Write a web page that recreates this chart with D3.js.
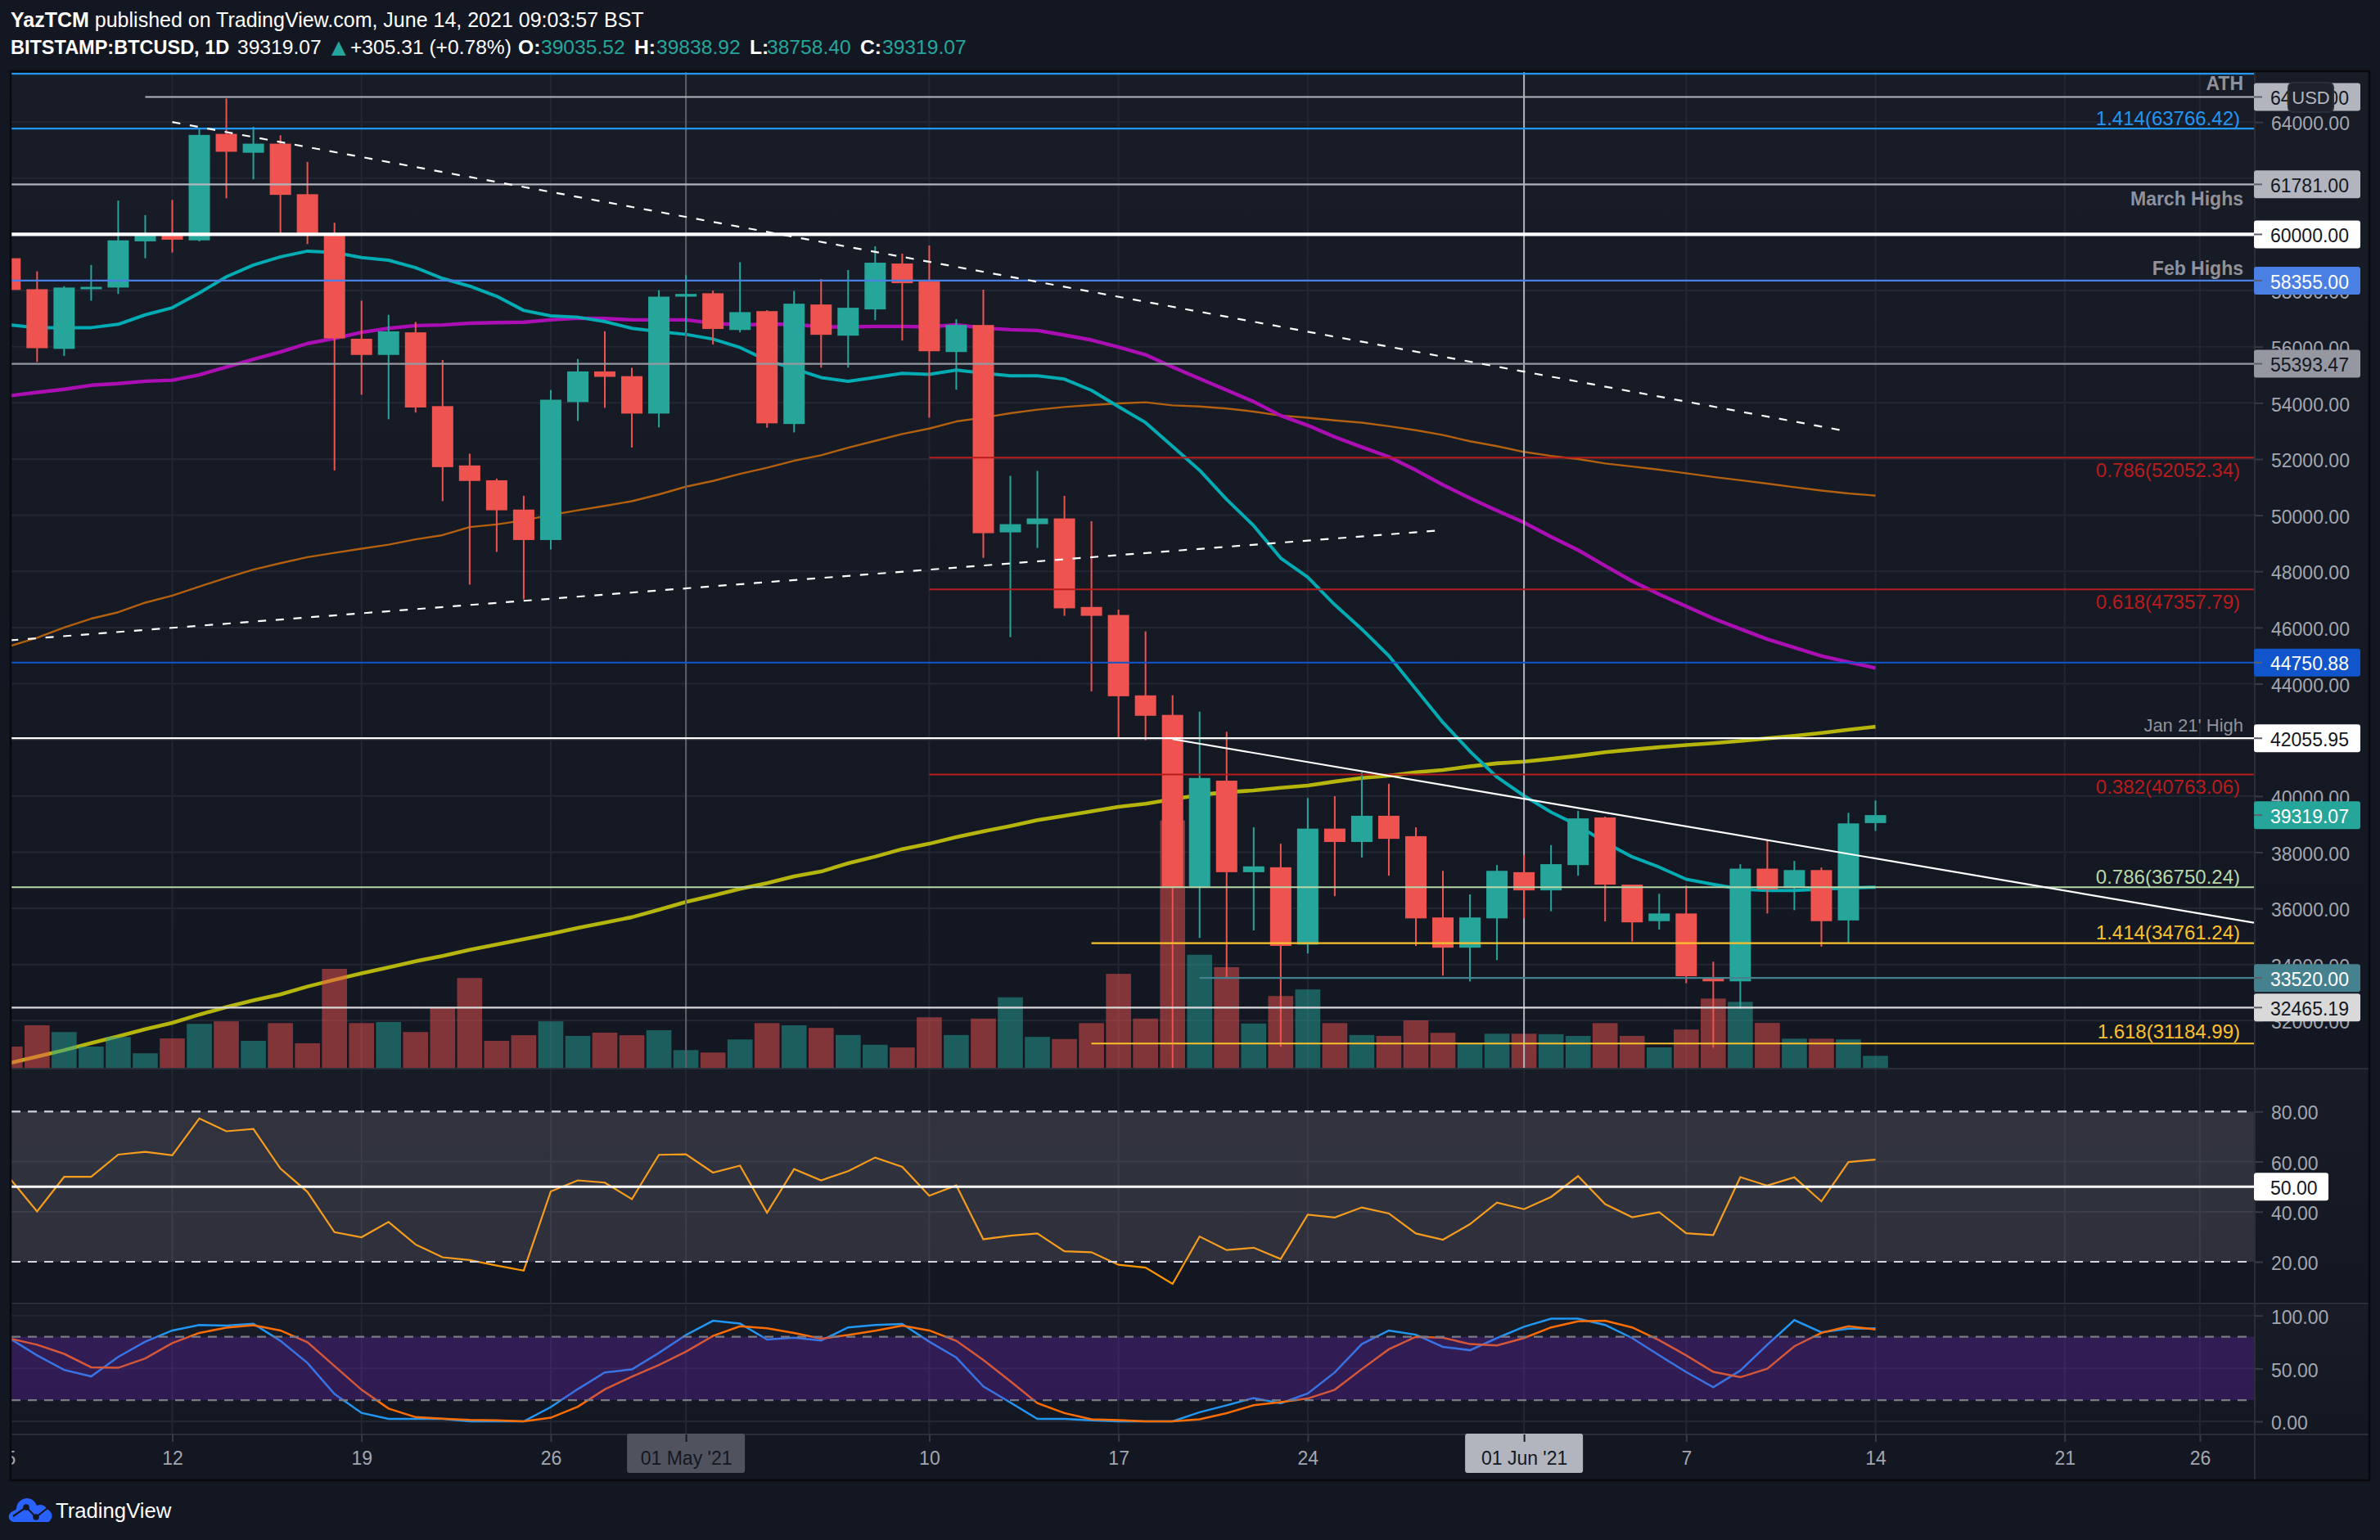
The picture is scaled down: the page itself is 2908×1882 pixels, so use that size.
<!DOCTYPE html>
<html><head><meta charset="utf-8"><script src="https://cdn.jsdelivr.net/npm/d3@7/dist/d3.min.js"></script>
<style>html,body{margin:0;padding:0;background:#131722}svg{display:block}text{font-family:"Liberation Sans",Arial,sans-serif}</style></head>
<body><script>
// ---- data (index 0 = 6 Apr 2021, daily, last = 14 Jun 2021) ----
const firstDay=-6; // day offset from 12 Apr
const open=[59152,58048,55924,58048,58108,59752,59980,59788,63580,62908,63232,61432,60016,56284,55708,56512,53884,51772,51244,50200,49117,54028,55120,54952,53620,57784,57904,56596,57268,53248,57504,56394,57329,58963,58321,55811,56774,49389,49681,49885,46732,46447,43584,42888,36765,40546,37287,37462,34709,38838,38363,39296,38569,35674,34598,35642,37287,36639,37540,39234,36844,35543,35816,33530,33400,37413,36725,37362,35569,39035.52];
const close=[58024,55948,58108,58132,59788,59980,59812,63544,62944,63232,61408,60016,56296,55708,56548,53836,51712,51220,50176,49117,54112,55120,54928,53620,57784,57880,56632,57232,53272,57532,56424,57387,58992,58263,55840,56774,49360,49681,49885,46684,46416,43552,42856,36734,40641,37287,37494,34661,38838,38363,39296,38474,35642,34598,35674,37335,36639,37572,39202,36844,35500,35816,33581,33400,37413,36673,37362,35543,39024,39319.07];
const high=[59400,58684,58156,58912,61204,60688,61228,63760,64840,63832,63532,62584,60412,57640,57136,56884,55528,52192,51304,50692,54460,55564,56548,55252,58012,58552,58000,59008,57300,57988,58409,58730,59576,59314,59605,56978,58029,51403,51578,50687,49785,46637,45862,43584,43000,42287,38885,38300,39929,39993,40831,40436,38885,37335,36496,37540,37905,38252,39471,39265,36844,36517,36803,34100,37569,38427,37686,37452,39401,39838.92];
const low=[57900,55456,55672,57640,57880,59152,59356,59752,61288,61960,60020,59656,51592,54292,53416,53656,50500,47528,48694,47003,48780,53356,53824,52408,53128,56500,56080,56512,53116,52948,55256,55256,56949,56219,53475,54468,48484,45656,48834,46416,43726,42065,41986,30247,34946,33553,35215,31070,34393,36433,37810,37161,34661,33601,33396,34155,35642,35896,37161,35531,34819,35244,33335,31035,32425,35816,35933,34634,34776,38758.40];
const volume=[2600,5200,4380,2600,3770,1780,3600,5380,5680,3300,5470,3000,12100,5470,5600,4380,7420,10980,3300,3990,5680,3900,4300,3990,4600,2170,1870,3470,5470,5200,4880,4010,2820,2490,6180,4010,6020,8620,3790,3520,5470,11490,6020,30240,13820,12300,5420,8780,9590,5470,4010,3900,5800,4280,2980,4170,4170,4120,3900,5470,3900,2500,4680,8470,8070,5490,3570,3570,3480,1470];
const ma21=[56776,56680,56680,56680,56800,57136,57388,57916,58492,58912,59200,59404,59356,59176,59080,58816,58432,58156,57796,57292,57100,57052,56896,56656,56536,56440,56272,55972,55516,55216,54900,54770,54906,55052,55013,55169,55062,54964,54964,54847,54448,53865,53300,52450,51600,50560,49627,48472,47792,46811,45941,44992,43805,42619,41590,40673,40008,39423,38949,38347,37830,37466,37037,36855,36686,36634,36634,36686,36725,36751];
const ma50=[54256,54376,54484,54628,54688,54772,54808,55000,55276,55552,55816,56116,56296,56512,56656,56752,56776,56836,56860,56872,56956,57016,57004,56956,56956,56956,56836,56776,56800,56800,56706,56706,56725,56725,56706,56784,56667,56609,56579,56414,56239,55986,55713,55280,54862,54453,54044,53548,53200,52785,52427,52079,51604,51082,50608,50165,49738,49232,48757,48203,47650,47182,46753,46325,45948,45584,45286,44987,44766,44558];
const ma100=[45341,45633,45999,46316,46544,46886,47139,47456,47772,48063,48291,48506,48658,48810,48950,49139,49291,49576,49672,49816,50008,50176,50332,50500,50740,51016,51220,51472,51688,51940,52133,52405,52648,52892,53086,53339,53476,53632,53758,53855,53923,53982,54020,53913,53870,53800,53690,53548,53470,53375,53297,53170,53028,52854,52633,52459,52253,52111,52000,51842,51735,51622,51492,51362,51244,51127,50997,50879,50775,50697];
const ma200=[30493,30721,30949,31202,31442,31696,31923,32215,32481,32721,32936,33215,33455,33683,33898,34114,34304,34519,34709,34899,35088,35304,35494,35684,35949,36228,36456,36696,36899,37139,37310,37604,37841,38110,38300,38537,38743,38933,39138,39296,39455,39613,39724,39882,40040,40135,40198,40293,40372,40515,40641,40720,40847,40926,41053,41163,41227,41322,41433,41559,41650,41739,41817,41882,41960,42051,42142,42246,42363,42467];
const rsi=[53.2,40.1,53.9,53.9,62.8,63.9,62.5,77.2,72.1,73.0,57.2,47.9,31.8,29.8,35.9,26.9,21.8,20.7,18.5,16.5,48.1,52.5,51.6,45.0,62.7,62.9,55.6,58.4,39.6,57.0,52.5,56.2,61.6,57.9,46.4,50.5,29,30.4,31.3,24.2,23.8,18.8,17.7,11.2,30.1,24.7,25.6,21.1,38.8,37.7,41.7,39.3,31.3,28.8,35.0,43.6,41.0,45.9,54.2,43.0,37.8,39.8,31.4,30.7,53.8,50.4,53.7,44.1,59.8,60.8];
const stochK=[78.2,62.4,48.6,42.5,60.9,75.3,85.9,91.1,90.5,92.2,76.1,55.2,25.9,8,2.3,2.3,2.3,0,0,0,13.5,30.5,46.3,49.1,64.7,81.6,95.1,92.5,77.3,79,76.4,88.8,91.1,92,75.3,60.3,33,17.8,2.3,2.3,0.9,0,0,0,8.6,15.2,22.1,17,26.4,46.3,73,85.9,81.9,70.4,67.2,78.7,89.4,97.1,97.1,91.1,78.7,62.4,46.6,32.2,48,72.4,95.7,84.2,87.6,87.9];
const stochD=[78.2,72.4,63.8,51.1,50.6,59.5,73.9,83.6,88.5,90.8,85.9,74.7,52.3,29.9,12.1,4,2.6,1.4,0.9,0,3.4,13.8,30.2,42.2,53.2,65.8,80.7,89.9,87.9,83.6,78.2,81.6,85.6,90.5,85.9,76.1,58,37.9,17.2,7.8,2,1.1,0,0,2,7.8,15.2,18.1,21.6,29.9,49.4,68.1,79.9,79,73,71.8,78.7,88.8,94.5,95.1,88.8,76.7,62.4,46.8,41.7,49.7,71,83.6,89.9,86.8];
const priceTicks=[64000,62000,60000,58000,56000,54000,52000,50000,48000,46000,44000,42000,40000,38000,36000,34000,32000];
const rsiTicks=[80,60,40,20];
const stochTicks=[100,50,0];
const dayTicks=[-6,0,7,14,19,28,35,42,50,56,63,70,75];
const dayLabels=["5","12","19","26","01 May '21","10","17","24","01 Jun '21","7","14","21","26"];
// horizontal drawings
const hlValue=[65720,64895,63766.42,61781,60000,58355,55393.47,52052.34,47357.79,44750.88,42055.95,40763.06,36750.24,34761.24,33520,32465.19,31184.99];
const hlStart=[-6,-1,-6,-6,-6,-6,-6,28,28,-6,-6,28,-6,34,38,-6,34];
const hlColor=["#2196f3","#b2b5be","#2196f3","#b2b5be","#ffffff","#4a80e4","#9598a1","#b71c1c","#b71c1c","#1155cc","#ffffff","#b71c1c","#b7d7a8","#fbc02d","#45818e","#d9d9d9","#fbc02d"];
const hlWidth=[2.2,2.2,2.2,2.2,4.2,2.2,2.2,2,2,2.2,2.2,2,2,2.2,2.2,2.2,2.2];
// trend lines: [day, price]
const trendDown=[[0,64000],[62,52980]];
const trendUp=[[-6,45545],[46.8,49452]];
const trendSolid=[[37,42026],[77,35487]];
// price pills
const pillValue=[64895,61781,60000,58355,55393.47,44750.88,42055.95,39319.07,33520,32465.19];
const pillFill=["#b2b5be","#b2b5be","#ffffff","#4a80e4","#9598a1","#1155cc","#ffffff","#26a69a","#45818e","#d9d9d9"];
const pillInk=["#131722","#131722","#131722","#ffffff","#131722","#ffffff","#131722","#ffffff","#ffffff","#131722"];
// text notes
const noteText=["ATH","March Highs","Feb Highs","1.414(63766.42)","0.786(52052.34)","0.618(47357.79)","Jan 21' High","0.382(40763.06)","0.786(36750.24)","1.414(34761.24)","1.618(31184.99)"];
const noteValue=[65370,61289,58810,64146,51610,46915,42540,40325,37130,35140,31610];
const noteColor=["#8f929b","#8f929b","#8f929b","#2196f3","#b71c1c","#b71c1c","#8f929b","#b71c1c","#b7d7a8","#fbc02d","#fbc02d"];
const noteWeight=["bold","bold","bold","normal","normal","normal","normal","normal","normal","normal","normal"];
const noteSize=[23,23,23,24,24,24,22,24,24,24,24];
const noteRight=[2741,2741,2741,2737,2737,2737,2741,2737,2737,2737,2737];
// header pieces
const headText=["BITSTAMP:BTCUSD, 1D","39319.07","▲","+305.31 (+0.78%)","O:","39035.52","H:","39838.92","L:","38758.40","C:","39319.07"];
const headX=[13,290,399,428,633,661,775,802,916,937,1051,1078];
const headBold=[1,0,0,0,1,0,1,0,1,0,1,0];
const headTeal=[0,0,1,0,0,1,0,1,0,1,0,1];

// ---- geometry ----
const W=2908,H=1882,L=14,R=2754,OUT=2894;
const main={t:88,b:1305},rp={t:1306,b:1593},sp={t:1595,b:1753},ax={t:1754,b:1808};
const x=d3.scaleLinear().domain([-6,77]).range([12.3,2754]);
const y=d3.scaleLinear().domain([64000,32000]).range([149.2,1247.3]);
const yVol=d3.scaleLinear().domain([0,30300]).range([1305,1002]);
const yR=d3.scaleLinear().domain([80,20]).range([1358.3,1542]);
const yS=d3.scaleLinear().domain([100,0]).range([1607.7,1737]);
const days=d3.range(open.length).map(i=>i+firstDay);

const svg=d3.select("body").append("svg").attr("width",W).attr("height",H);
svg.append("rect").attr("width",W).attr("height",H).attr("fill","#131722");
const defs=svg.append("defs");
const g=defs.append("linearGradient").attr("id","pane").attr("x1",0).attr("x2",0).attr("y1",0).attr("y2",1);
g.append("stop").attr("offset",0).attr("stop-color","#181c27");
g.append("stop").attr("offset",1).attr("stop-color","#131722");
[["cm",L,main.t,R-L,main.b-main.t],["cr",L,rp.t,R-L,rp.b-rp.t],["cs",L,sp.t,R-L,sp.b-sp.t],["ct",L,0,W,H]].forEach(c=>
 defs.append("clipPath").attr("id",c[0]).append("rect").attr("x",c[1]).attr("y",c[2]).attr("width",c[3]).attr("height",c[4]));
// panes
[main,rp,sp].forEach(p=>svg.append("rect").attr("x",L).attr("y",p.t).attr("width",OUT-L).attr("height",p.b-p.t).attr("fill","url(#pane)"));
svg.append("rect").attr("x",L).attr("y",ax.t).attr("width",OUT-L).attr("height",ax.b-ax.t).attr("fill","#131722");
const GRID="#232733";
// vertical grid
[main,rp,sp].forEach(p=>{
 svg.append("g").selectAll("line").data(dayTicks.slice(1)).join("line").attr("x1",d=>x(d)).attr("x2",d=>x(d)).attr("y1",p.t).attr("y2",p.b).attr("stroke",GRID).attr("stroke-width",2);
});
// horizontal grid
function hgrid(ticks,sc){svg.append("g").selectAll("line").data(ticks).join("line").attr("x1",L).attr("x2",R).attr("y1",d=>sc(d)).attr("y2",d=>sc(d)).attr("stroke",GRID).attr("stroke-width",2);}
hgrid(priceTicks,y);hgrid([60,40],yR);hgrid(stochTicks,yS);

// ---- main pane ----
const mg=svg.append("g").attr("clip-path","url(#cm)");
const lineOf=(arr,sc)=>d3.line().x((d,i)=>x(days[i])).y(d=>sc(d))(arr);
[[ma100,"#b2600f",2.4],[ma200,"#b5b50c",4.6],[ma50,"#ab0fb3",4.4],[ma21,"#00acb3",4]].forEach(m=>
 mg.append("path").attr("d",lineOf(m[0],y)).attr("fill","none").attr("stroke",m[1]).attr("stroke-width",m[2]).attr("stroke-linejoin","round"));
const colorAt=i=>close[i]>=open[i]?"#26a69a":"#ef5350";
const bw=x(1)-x(0)-2.4;
mg.append("g").selectAll("rect").data(volume).join("rect")
 .attr("x",(d,i)=>x(days[i])-bw/2).attr("width",bw).attr("y",d=>yVol(d)).attr("height",d=>1305-yVol(d))
 .attr("fill",(d,i)=>colorAt(i)).attr("fill-opacity",0.5);
// date marker lines
mg.append("line").attr("x1",x(19)).attr("x2",x(19)).attr("y1",main.t).attr("y2",main.b).attr("stroke","#5d6068").attr("stroke-width",2);
mg.append("line").attr("x1",x(50)).attr("x2",x(50)).attr("y1",main.t).attr("y2",main.b).attr("stroke","#b2b5be").attr("stroke-width",2);
// candles
const cw=26;
mg.append("g").selectAll("line").data(days).join("line")
 .attr("x1",d=>x(d)).attr("x2",d=>x(d)).attr("y1",(d,i)=>y(high[i])).attr("y2",(d,i)=>y(low[i]))
 .attr("stroke",(d,i)=>colorAt(i)).attr("stroke-width",2);
mg.append("g").selectAll("rect").data(days).join("rect")
 .attr("x",d=>x(d)-cw/2).attr("width",cw)
 .attr("y",(d,i)=>y(Math.max(open[i],close[i])))
 .attr("height",(d,i)=>Math.max(2,Math.abs(y(open[i])-y(close[i]))))
 .attr("fill",(d,i)=>colorAt(i));
// drawings
mg.append("g").selectAll("line").data(hlValue).join("line")
 .attr("x1",(d,i)=>x(hlStart[i])).attr("x2",R).attr("y1",d=>y(d)).attr("y2",d=>y(d))
 .attr("stroke",(d,i)=>hlColor[i]).attr("stroke-width",(d,i)=>hlWidth[i]);
const tl=d3.line().x(d=>x(d[0])).y(d=>y(d[1]));
mg.append("path").attr("d",tl(trendDown)).attr("stroke","#ffffff").attr("stroke-width",2.2).attr("stroke-dasharray","10 11.7").attr("fill","none");
mg.append("path").attr("d",tl(trendUp)).attr("stroke","#ffffff").attr("stroke-width",2.2).attr("stroke-dasharray","10 11.7").attr("fill","none");
mg.append("path").attr("d",tl(trendSolid)).attr("stroke","#ffffff").attr("stroke-width",2.2).attr("fill","none");
// notes
mg.append("g").selectAll("text").data(noteText).join("text")
 .attr("x",(d,i)=>noteRight[i]).attr("y",(d,i)=>y(noteValue[i])).attr("dy","0.36em").attr("text-anchor","end")
 .attr("font-size",(d,i)=>noteSize[i]).attr("font-weight",(d,i)=>noteWeight[i]).attr("fill",(d,i)=>noteColor[i]).text(d=>d);

// ---- RSI ----
const rg=svg.append("g").attr("clip-path","url(#cr)");
rg.append("path").attr("d",lineOf(rsi,yR)).attr("fill","none").attr("stroke","#ff9800").attr("stroke-width",2.2);
rg.append("rect").attr("x",L).attr("width",R-L).attr("y",yR(80)).attr("height",yR(20)-yR(80)).attr("fill","rgb(200,190,200)").attr("fill-opacity",0.15);
[80,20].forEach(v=>rg.append("line").attr("x1",L).attr("x2",R).attr("y1",yR(v)).attr("y2",yR(v)).attr("stroke","#d1d4dc").attr("stroke-width",2.2).attr("stroke-dasharray","11 9"));
rg.append("line").attr("x1",L).attr("x2",R).attr("y1",yR(50)).attr("y2",yR(50)).attr("stroke","#fff").attr("stroke-width",3);
// ---- Stoch ----
const sg=svg.append("g").attr("clip-path","url(#cs)");
sg.append("path").attr("d",lineOf(stochK,yS)).attr("fill","none").attr("stroke","#2196f3").attr("stroke-width",2.5);
sg.append("path").attr("d",lineOf(stochD,yS)).attr("fill","none").attr("stroke","#ff6d00").attr("stroke-width",2.5);
sg.append("rect").attr("x",L).attr("width",R-L).attr("y",yS(80)).attr("height",yS(20)-yS(80)).attr("fill","rgb(113,37,192)").attr("fill-opacity",0.3);
[80,20].forEach(v=>sg.append("line").attr("x1",L).attr("x2",R).attr("y1",yS(v)).attr("y2",yS(v)).attr("stroke","#787b86").attr("stroke-width",2.2).attr("stroke-dasharray","11 9"));

// separators & right axis line
[main.b+1,rp.b,sp.b].forEach(v=>svg.append("line").attr("x1",L).attr("x2",OUT).attr("y1",v).attr("y2",v).attr("stroke","#2a2e39").attr("stroke-width",2));
svg.append("line").attr("x1",R+1).attr("x2",R+1).attr("y1",main.t).attr("y2",ax.b).attr("stroke","#2a2e39").attr("stroke-width",2);

// ---- axes ----
const AX="#a3a6af";
function styleAxis(a){a.select(".domain").remove();a.selectAll("line").attr("stroke","#363a45").attr("stroke-width",2);a.selectAll("text").attr("fill",AX).attr("font-size",23).attr("font-family",'"Liberation Sans",Arial,sans-serif');}
const f2=d3.format(".2f");
[[y,priceTicks],[yR,rsiTicks],[yS,stochTicks]].forEach(c=>{
 const a=svg.append("g").attr("transform",`translate(${R+1},0)`).call(d3.axisRight(c[0]).tickValues(c[1]).tickFormat(f2).tickSize(10).tickPadding(10));
 styleAxis(a);
 a.selectAll("text").attr("dy","0.42em");
});
// 50 pill
svg.append("rect").attr("x",R).attr("y",yR(50)-17).attr("width",91).attr("height",34).attr("rx",3).attr("fill","#fff");
svg.append("text").attr("x",R+20).attr("y",yR(50)).attr("dy","0.42em").attr("font-size",23).attr("fill","#131722").text("50.00");
// pills
const pg=svg.append("g");
pg.selectAll("rect").data(pillValue).join("rect").attr("x",R).attr("width",130).attr("height",34).attr("rx",3).attr("y",d=>y(d)-17).attr("fill",(d,i)=>pillFill[i]);
pg.selectAll("line").data(pillValue).join("line").attr("x1",R).attr("x2",R+10).attr("y1",d=>y(d)).attr("y2",d=>y(d)).attr("stroke","#5d606b").attr("stroke-width",2);
pg.selectAll("text").data(pillValue).join("text").attr("x",R+20).attr("y",d=>y(d)).attr("dy","0.42em").attr("font-size",23).attr("fill",(d,i)=>pillInk[i]).text(f2);
// USD chip
svg.append("rect").attr("x",2796).attr("y",101).attr("width",55).attr("height",36).attr("rx",6).attr("fill","#1e222d").attr("stroke","#2a2e39").attr("stroke-width",2);
svg.append("text").attr("x",2823.5).attr("y",119).attr("dy","0.36em").attr("text-anchor","middle").attr("font-size",22).attr("fill","#b2b5be").text("USD");

// time axis
const isBox=d=>d===19||d===50;
[[19,"#50535e"],[50,"#b2b5be"]].forEach(b=>svg.append("rect").attr("x",x(b[0])-72).attr("y",1752).attr("width",144).attr("height",48).attr("rx",3).attr("fill",b[1]));
const ta=svg.append("g").attr("clip-path","url(#ct)").attr("transform",`translate(0,${sp.b})`)
 .call(d3.axisBottom(x).tickValues(dayTicks).tickFormat((d,i)=>dayLabels[i]).tickSize(9).tickPadding(6));
styleAxis(ta);
ta.selectAll(".tick").filter(d=>isBox(d)).select("line").attr("stroke","#131722");
ta.selectAll(".tick").filter(d=>isBox(d)).select("text").attr("fill","#131722");
ta.selectAll(".tick text").attr("y",18).attr("dy","0.83em");
ta.selectAll(".tick").filter(d=>d===-6).select("line").remove();
svg.append("rect").attr("x",0).attr("y",sp.b).attr("width",L).attr("height",60).attr("fill","#131722");

// frame
svg.append("path").attr("d",`M${L-1},${main.t-1}H${OUT+1}V${ax.b+1}H${L-1}Z`).attr("fill","none").attr("stroke","#07090e").attr("stroke-width",2.5);

// header
const t1=svg.append("text").attr("x",13).attr("y",33).attr("font-size",25).attr("fill","#ffffff").attr("xml:space","preserve");
t1.append("tspan").attr("font-weight","bold").text("YazTCM");
t1.append("tspan").text(" published on TradingView.com, June 14, 2021 09:03:57 BST");
svg.append("g").selectAll("text").data(headText).join("text")
 .attr("x",(d,i)=>headX[i]).attr("y",d=>d==="▲"?68:66).attr("font-size",(d,i)=>d==="▲"?30:(i===0?23.5:24.6))
 .attr("font-weight",(d,i)=>headBold[i]?"bold":"normal")
 .attr("fill",(d,i)=>headTeal[i]?"#26a69a":"#ffffff").text(d=>d);

// logo
svg.append("path").attr("d","M17,1860 C9,1859 9,1850 15,1847 C18,1846 19,1845 20,1844 C20,1836 27,1831 33,1831 C39,1831 43,1835 45,1840 C49,1838 55,1839 57,1844 C62,1846 66,1852 62,1857 C61,1859 60,1860 58,1860 Z").attr("fill","#2962ff");
svg.append("path").attr("d","M16,1853 L32,1842 L44,1854 L58,1843").attr("fill","none").attr("stroke","#131722").attr("stroke-width",2.2);
svg.append("circle").attr("cx",32).attr("cy",1842).attr("r",3.8).attr("fill","#131722");
svg.append("circle").attr("cx",44).attr("cy",1854).attr("r",3.8).attr("fill","#131722");
svg.append("text").attr("x",68).attr("y",1846).attr("dy","0.36em").attr("font-size",25.7).attr("fill","#ffffff").text("TradingView");
</script></body></html>
